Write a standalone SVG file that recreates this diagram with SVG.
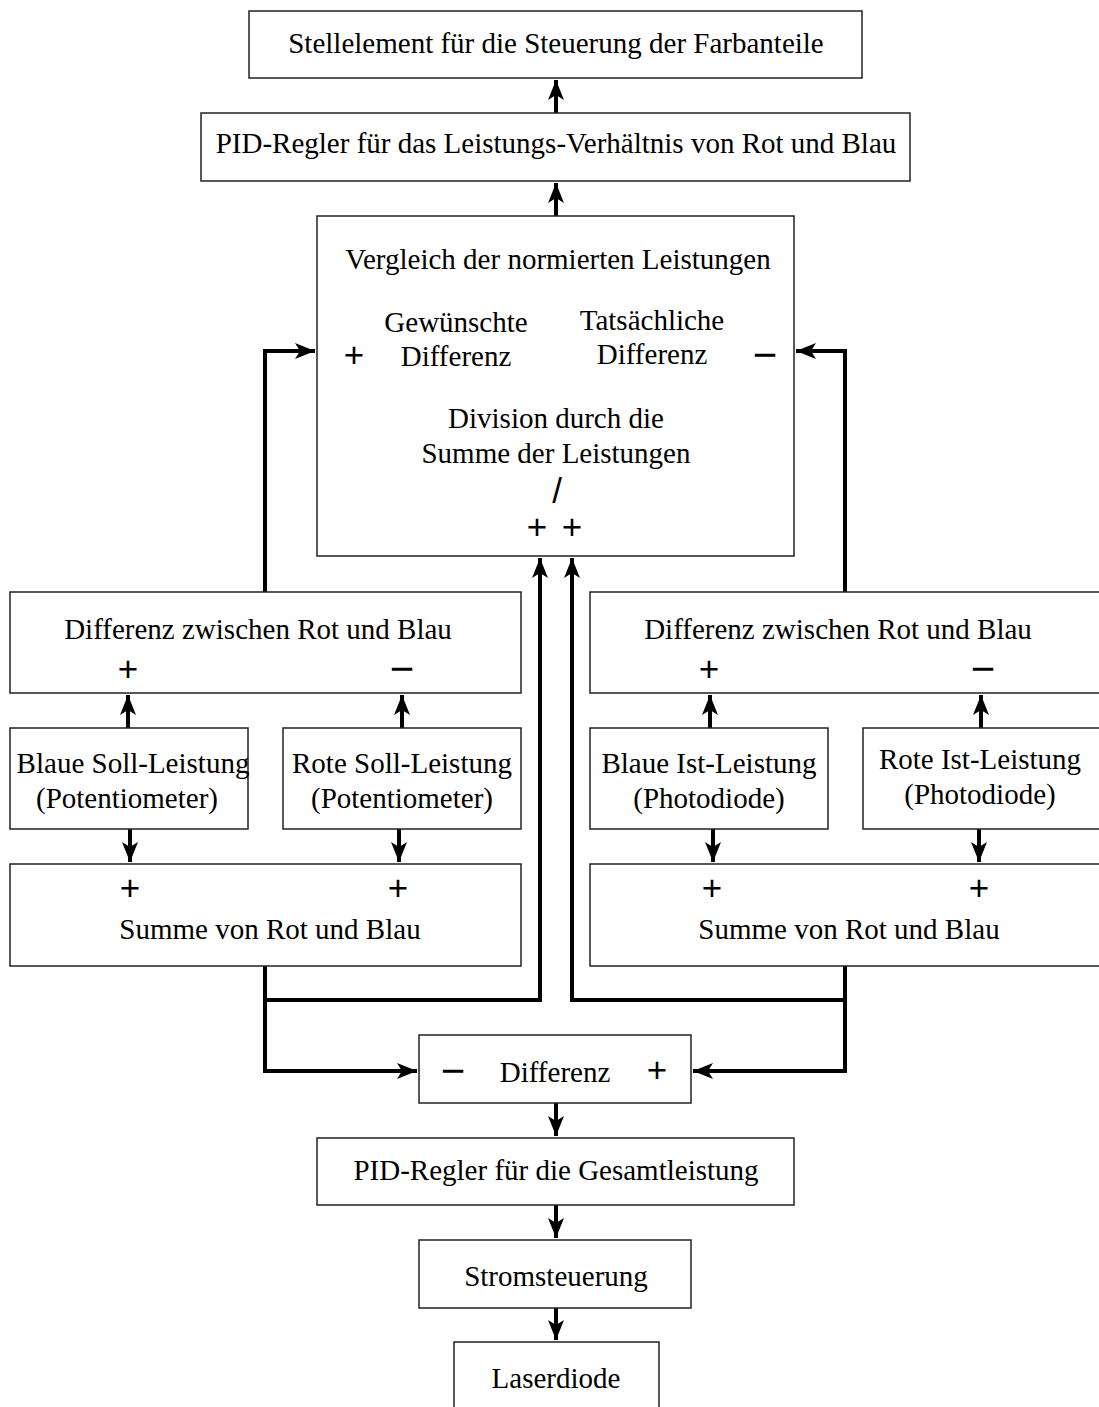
<svg xmlns="http://www.w3.org/2000/svg" width="1099" height="1407" viewBox="0 0 1099 1407">
<style>
.box{fill:#fff;stroke:#222;stroke-width:1.5}
.t{font-family:"Liberation Serif","Times New Roman","DejaVu Serif",serif;font-size:29px;fill:#000;text-anchor:middle}
.s{font-family:"Liberation Sans",Arial,sans-serif;font-size:35px;fill:#000;text-anchor:middle}
.m{font-family:"Liberation Sans",Arial,sans-serif;font-size:42px;fill:#000;text-anchor:middle}
.c{fill:none;stroke:#000;stroke-width:4;stroke-linejoin:miter}
</style>
<defs>
<marker id="ah" markerUnits="userSpaceOnUse" markerWidth="20" markerHeight="16" viewBox="0 0 20 16" refX="20" refY="8" orient="auto">
<path d="M0,0 L20,8 L0,16 L5,8 Z" fill="#000"/>
</marker>
</defs>
<rect width="1099" height="1407" fill="#fff"/>
<g id="connectors">
<path class="c" d="M556,113 L556,80" marker-end="url(#ah)"/>
<path class="c" d="M556,216 L556,183" marker-end="url(#ah)"/>
<path class="c" d="M265,592 L265,351 L315,351" marker-end="url(#ah)"/>
<path class="c" d="M845,592 L845,351 L796,351" marker-end="url(#ah)"/>
<path class="c" d="M128,728 L128,695" marker-end="url(#ah)"/>
<path class="c" d="M402,728 L402,695" marker-end="url(#ah)"/>
<path class="c" d="M130,829 L130,862" marker-end="url(#ah)"/>
<path class="c" d="M399,829 L399,862" marker-end="url(#ah)"/>
<path class="c" d="M710,728 L710,695" marker-end="url(#ah)"/>
<path class="c" d="M981,728 L981,695" marker-end="url(#ah)"/>
<path class="c" d="M713,829 L713,862" marker-end="url(#ah)"/>
<path class="c" d="M979,829 L979,862" marker-end="url(#ah)"/>
<path class="c" d="M265,966 L265,1071 L417,1071" marker-end="url(#ah)"/>
<path class="c" d="M265,1000 L540,1000 L540,558" marker-end="url(#ah)"/>
<path class="c" d="M845,966 L845,1071 L693,1071" marker-end="url(#ah)"/>
<path class="c" d="M845,1000 L572,1000 L572,558" marker-end="url(#ah)"/>
<path class="c" d="M556,1103 L556,1136" marker-end="url(#ah)"/>
<path class="c" d="M556,1205 L556,1238" marker-end="url(#ah)"/>
<path class="c" d="M556,1308 L556,1340" marker-end="url(#ah)"/>
</g>
<g id="stellelement"><rect class="box" x="249" y="11" width="613" height="67"/><text class="t" x="556" y="53">Stellelement für die Steuerung der Farbanteile</text></g>
<g id="pid-verhaeltnis"><rect class="box" x="201" y="113" width="709" height="68"/><text class="t" x="556" y="153">PID-Regler für das Leistungs-Verhältnis von Rot und Blau</text></g>
<g id="vergleich"><rect class="box" x="317" y="216" width="477" height="340"/>
<text class="t" x="558" y="269">Vergleich der normierten Leistungen</text>
<text class="t" x="456" y="332">Gewünschte</text><text class="t" x="456" y="366">Differenz</text>
<text class="t" x="652" y="330">Tatsächliche</text><text class="t" x="652" y="364">Differenz</text>
<text class="s" x="354" y="367">+</text><text class="m" x="765" y="369">−</text>
<text class="s" x="557" y="503">/</text>
<text class="t" x="556" y="428">Division durch die</text><text class="t" x="556" y="463">Summe der Leistungen</text>
<text class="s" x="537" y="539">+</text><text class="s" x="572" y="539">+</text>
</g>
<g id="diff-soll"><rect class="box" x="10" y="592" width="511" height="101"/><text class="t" x="258" y="639">Differenz zwischen Rot und Blau</text><text class="s" x="128" y="681">+</text><text class="m" x="402" y="683">−</text></g>
<g id="diff-ist"><rect class="box" x="590" y="592" width="515" height="101"/><text class="t" x="838" y="639">Differenz zwischen Rot und Blau</text><text class="s" x="709" y="681">+</text><text class="m" x="983" y="683">−</text></g>
<g id="blaue-soll"><rect class="box" x="10" y="728" width="238" height="101"/><text class="t" x="133" y="773">Blaue Soll-Leistung</text><text class="t" x="127" y="808">(Potentiometer)</text></g>
<g id="rote-soll"><rect class="box" x="283" y="728" width="238" height="101"/><text class="t" x="402" y="773">Rote Soll-Leistung</text><text class="t" x="402" y="808">(Potentiometer)</text></g>
<g id="blaue-ist"><rect class="box" x="590" y="728" width="238" height="101"/><text class="t" x="709" y="773">Blaue Ist-Leistung</text><text class="t" x="709" y="808">(Photodiode)</text></g>
<g id="rote-ist"><rect class="box" x="863" y="728" width="242" height="101"/><text class="t" x="980" y="769">Rote Ist-Leistung</text><text class="t" x="980" y="804">(Photodiode)</text></g>
<g id="summe-soll"><rect class="box" x="10" y="864" width="511" height="102"/><text class="s" x="130" y="900">+</text><text class="s" x="398" y="900">+</text><text class="t" x="270" y="939">Summe von Rot und Blau</text></g>
<g id="summe-ist"><rect class="box" x="590" y="864" width="515" height="102"/><text class="s" x="712" y="900">+</text><text class="s" x="979" y="900">+</text><text class="t" x="849" y="939">Summe von Rot und Blau</text></g>
<g id="differenz"><rect class="box" x="419" y="1035" width="272" height="68"/><text class="m" x="453" y="1085">−</text><text class="t" x="555" y="1082">Differenz</text><text class="s" x="657" y="1082">+</text></g>
<g id="pid-gesamt"><rect class="box" x="317" y="1138" width="477" height="67"/><text class="t" x="556" y="1180">PID-Regler für die Gesamtleistung</text></g>
<g id="stromsteuerung"><rect class="box" x="419" y="1240" width="272" height="68"/><text class="t" x="556" y="1286">Stromsteuerung</text></g>
<g id="laserdiode"><rect class="box" x="454" y="1342" width="205" height="75"/><text class="t" x="556" y="1388">Laserdiode</text></g>
</svg>
